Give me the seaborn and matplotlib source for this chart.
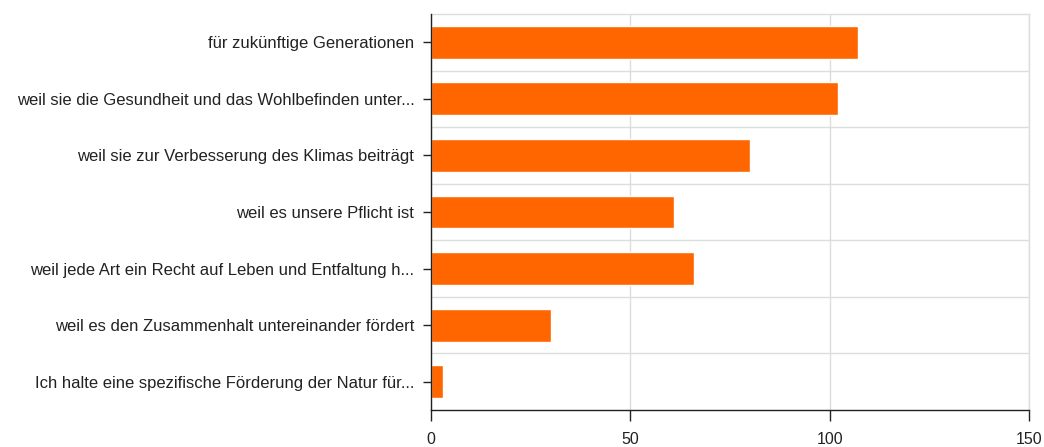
import matplotlib
matplotlib.use("Agg")
import matplotlib.pyplot as plt
import seaborn as sns
import pandas as pd
import numpy as np

categories = [
    "für zukünftige Generationen",
    "weil sie die Gesundheit und das Wohlbefinden unter...",
    "weil sie zur Verbesserung des Klimas beiträgt",
    "weil es unsere Pflicht ist",
    "weil jede Art ein Recht auf Leben und Entfaltung h...",
    "weil es den Zusammenhalt untereinander fördert",
    "Ich halte eine spezifische Förderung der Natur für...",
]
counts = [107, 102, 80, 61, 66, 30, 3]
x_ticks = [0, 50, 100, 150]

df = pd.DataFrame({"Antwort": categories, "Anzahl": counts})

sns.set_theme(style="white")
plt.rcParams["font.family"] = ["Liberation Sans", "DejaVu Sans"]

fig = plt.figure(figsize=(10.44, 4.47), dpi=100)
ax = fig.add_axes([0.4128, 0.0828, 0.5728, 0.8859])

sns.barplot(data=df, x="Anzahl", y="Antwort", orient="h", color="#FF6600",
            saturation=1, width=0.58, ax=ax, zorder=3)

ax.set_xlim(0, 150)
ax.set_ylim(len(categories) - 0.5, -0.5)
ax.set_xticks(x_ticks)
ax.set_xticklabels([str(t) for t in x_ticks])
ax.set_xlabel("")
ax.set_ylabel("")

# separators between rows and vertical grid
ax.set_yticks(np.arange(len(categories) - 1) + 0.5, minor=True)
ax.grid(axis="x", which="major", color="#dddddd", linewidth=1, zorder=0)
ax.grid(axis="y", which="minor", color="#dddddd", linewidth=1, zorder=0)
ax.grid(axis="y", which="major", visible=False)

for side in ("top", "right"):
    ax.spines[side].set_visible(True)
    ax.spines[side].set_color("#dddddd")
    ax.spines[side].set_linewidth(1)
for side in ("left", "bottom"):
    ax.spines[side].set_color("#222222")
    ax.spines[side].set_linewidth(1)
    ax.spines[side].set_zorder(5)

ax.tick_params(axis="y", which="major", left=True, length=6, width=1,
               color="#222222", labelsize=12, pad=6, labelcolor="#222222")
ax.tick_params(axis="y", which="minor", left=False)
ax.tick_params(axis="x", which="major", bottom=True, length=8, width=1,
               color="#222222", labelsize=11.5, pad=8, labelcolor="#222222")

fig.savefig("out.png", dpi=100)
